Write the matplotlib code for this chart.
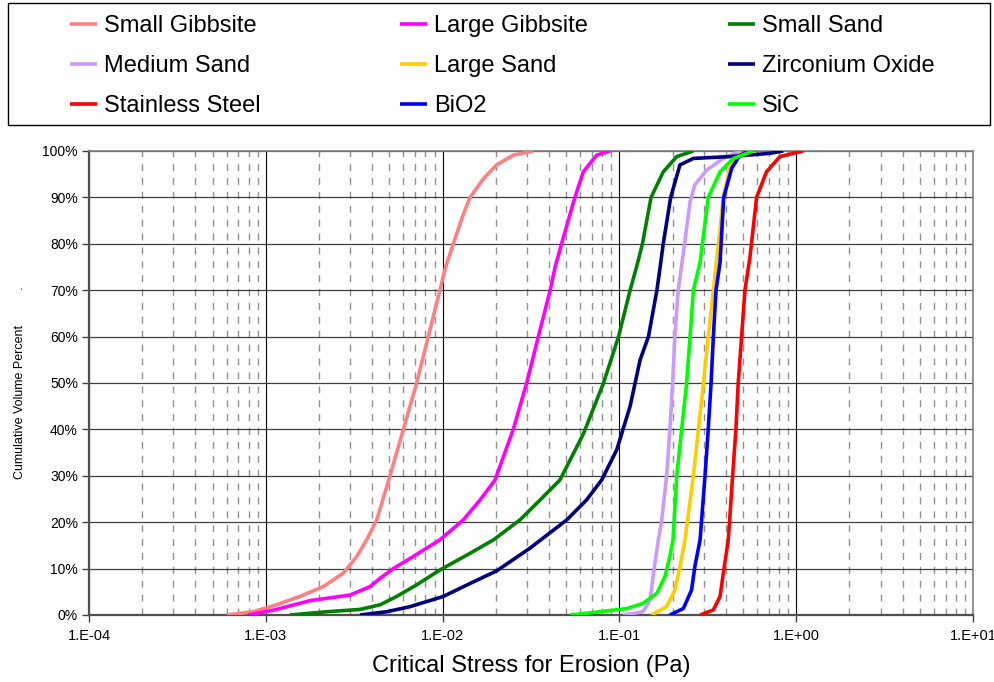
import matplotlib
matplotlib.use("Agg")
import matplotlib.pyplot as plt
import numpy as np
from matplotlib.patches import Rectangle
from matplotlib.ticker import FixedLocator, LogLocator, NullFormatter, PercentFormatter

plt.rcParams["font.family"] = ["Liberation Sans", "DejaVu Sans"]

# --------------------------------------------------------------
# Data: critical stress (Pa) vs cumulative volume %
# --------------------------------------------------------------
small_gibbsite_x = [6.01e-4, 8.49e-4, 1.15e-3, 1.56e-3, 2.11e-3, 2.74e-3, 3.27e-3, 3.72e-3,
                    4.24e-3, 5.04e-3, 6.0e-3, 7.13e-3, 8.30e-3, 9.66e-3, 1.04e-2, 1.15e-2,
                    1.30e-2, 1.43e-2, 1.70e-2, 2.02e-2, 2.51e-2, 3.26e-2]
small_gibbsite_y = [0, 0.7, 2.2, 4, 6.1, 9, 12.6, 16.2, 20.5, 30, 40, 50, 60, 70, 75, 80,
                    86, 90, 94, 97, 99.1, 100]

large_gibbsite_x = [7.96e-4, 1.15e-3, 1.78e-3, 2.99e-3, 3.88e-3, 4.43e-3, 5.26e-3, 6.82e-3,
                    9.66e-3, 1.31e-2, 1.63e-2, 1.98e-2, 2.51e-2, 2.99e-2, 3.48e-2, 4.06e-2,
                    4.33e-2, 4.71e-2, 5.60e-2, 6.25e-2, 7.43e-2, 8.85e-2]
large_gibbsite_y = [0, 1.2, 3.1, 4.3, 6.1, 7.9, 10, 12.6, 16.2, 20.5, 24.8, 29.1, 40, 50,
                    60, 70, 75, 80, 90, 95.5, 99.1, 100]

small_sand_x = [1.37e-3, 2.21e-3, 3.41e-3, 4.43e-3, 5.50e-3, 7.13e-3, 9.66e-3, 1.43e-2,
                1.94e-2, 2.74e-2, 3.56e-2, 4.61e-2, 6.25e-2, 8.13e-2, 9.89e-2, 0.115, 0.125,
                0.135, 0.151, 0.177, 0.211, 0.262]
small_sand_y = [0, 0.7, 1.2, 2.2, 4, 6.5, 9.7, 13.3, 16.2, 20.5, 24.8, 29.1, 39, 50, 60,
                70, 75, 80, 90, 95.5, 98.8, 100]

zirconium_x = [3.41e-3, 4.82e-3, 6.55e-3, 1.01e-2, 1.43e-2, 2.02e-2, 3.12e-2, 5.04e-2,
               6.52e-2, 7.94e-2, 9.66e-2, 0.115, 0.131, 0.146, 0.163, 0.170, 0.177, 0.195,
               0.220, 0.262, 0.422, 0.711, 0.845]
zirconium_y = [0, 0.7, 1.8, 4, 6.8, 9.5, 14.4, 20.5, 24.8, 29.1, 35.6, 45, 55, 60, 70, 75,
               80, 90, 97, 98.4, 98.8, 99.5, 100]

medium_sand_x = [0.105, 0.136, 0.149, 0.156, 0.166, 0.173, 0.185, 0.193, 0.200, 0.206,
                 0.215, 0.230, 0.251, 0.267, 0.312, 0.387, 0.481]
medium_sand_y = [0, 0.7, 3.2, 9, 16.2, 20, 30, 40, 50, 60, 70, 78, 89, 92.7, 95.9, 98.4, 100]

sic_x = [0.0526, 0.0776, 0.110, 0.136, 0.163, 0.181, 0.193, 0.201, 0.211, 0.225, 0.240,
         0.251, 0.262, 0.286, 0.318, 0.371, 0.441, 0.571]
sic_y = [0, 0.7, 1.4, 2.5, 4.7, 8.3, 12.6, 16.2, 30, 40, 50, 60, 70, 76, 90, 95.5, 98.4, 100]

large_sand_x = [0.152, 0.185, 0.206, 0.220, 0.235, 0.262, 0.280, 0.299, 0.318, 0.340, 0.363,
                0.387, 0.422, 0.491]
large_sand_y = [0, 1.8, 5.4, 10.4, 16.2, 30, 40, 50, 60, 70, 80, 90, 96.5, 99.8]

bio2_x = [0.193, 0.230, 0.256, 0.267, 0.286, 0.305, 0.318, 0.330, 0.340, 0.352, 0.371,
          0.389, 0.432, 0.481, 0.547]
bio2_y = [0, 1.4, 5.4, 10.4, 16.2, 30, 40, 50, 60, 70, 76, 90, 96.3, 99.1, 100]

steel_x = [0.286, 0.340, 0.371, 0.387, 0.413, 0.437, 0.456, 0.470, 0.491, 0.513, 0.547,
           0.597, 0.679, 0.809, 1.096]
steel_y = [0, 1.1, 4, 9, 16.2, 30, 40, 50, 60, 70, 77, 90, 95.5, 98.8, 100]

x_tick_values = [1e-4, 1e-3, 1e-2, 1e-1, 1e0, 1e1]
x_tick_labels = ["1.E-04", "1.E-03", "1.E-02", "1.E-01", "1.E+00", "1.E+01"]
y_tick_values = list(range(0, 101, 10))

series = [
    ("Small Gibbsite", small_gibbsite_x, small_gibbsite_y, "#FF8080"),
    ("Large Gibbsite", large_gibbsite_x, large_gibbsite_y, "#FF00FF"),
    ("Small Sand", small_sand_x, small_sand_y, "#008000"),
    ("Medium Sand", medium_sand_x, medium_sand_y, "#CC99FF"),
    ("Large Sand", large_sand_x, large_sand_y, "#FFCC00"),
    ("Zirconium Oxide", zirconium_x, zirconium_y, "#000080"),
    ("Stainless Steel", steel_x, steel_y, "#FF0000"),
    ("BiO2", bio2_x, bio2_y, "#0000FF"),
    ("SiC", sic_x, sic_y, "#00FF00"),
]

# --------------------------------------------------------------
# Figure
# --------------------------------------------------------------
fig = plt.figure(figsize=(9.95, 6.82), dpi=100)
ax = fig.add_axes([89 / 995, 67 / 682, 884 / 995, 464 / 682])

handles = {}
for name, xs, ys, color in series:
    line, = ax.plot(xs, ys, color=color, linewidth=2.6, solid_joinstyle="round",
                    solid_capstyle="butt", label=name, zorder=3)
    handles[name] = line

ax.set_xscale("log")
ax.set_xlim(1e-4, 1e1)
ax.set_ylim(0, 100)

ax.xaxis.set_major_locator(FixedLocator(x_tick_values))
ax.set_xticklabels(x_tick_labels, fontsize=10.5)
ax.xaxis.set_minor_locator(LogLocator(base=10, subs=np.arange(2, 10)))
ax.xaxis.set_minor_formatter(NullFormatter())
ax.set_yticks(y_tick_values)
ax.yaxis.set_major_formatter(PercentFormatter(decimals=0))
ax.tick_params(axis="y", labelsize=10, length=5, width=1, color="#404040", pad=3)
ax.tick_params(axis="x", which="major", length=5, width=1, color="#404040", pad=5)
ax.tick_params(axis="x", which="minor", length=0)

ax.grid(True, which="major", axis="y", color="#404040", linewidth=0.9)
ax.grid(True, which="major", axis="x", color="black", linewidth=0.8)
ax.grid(True, which="minor", axis="x", color="#909090", linewidth=1.0, linestyle=(0, (5, 5)))
ax.set_axisbelow(True)

for side in ["top", "right"]:
    ax.spines[side].set_color("#808080")
    ax.spines[side].set_linewidth(1.2)
for side in ["left", "bottom"]:
    ax.spines[side].set_color("#505050")
    ax.spines[side].set_linewidth(1.6)

ax.set_xlabel("Critical Stress for Erosion (Pa)", fontsize=17, labelpad=9)
ax.set_ylabel("Cumulative Volume Percent          .", fontsize=9, labelpad=12)

# Legend box across the top
fig.add_artist(Rectangle((8 / 995, 1 - 125 / 682), 982 / 995, 122 / 682,
                         transform=fig.transFigure, fill=False,
                         edgecolor="black", linewidth=1))
order = ["Small Gibbsite", "Medium Sand", "Stainless Steel",
         "Large Gibbsite", "Large Sand", "BiO2",
         "Small Sand", "Zirconium Oxide", "SiC"]
fig.legend([handles[n] for n in order], order, ncol=3, frameon=False,
           loc="upper left", bbox_to_anchor=(70 / 995, 1 - 15 / 682),
           fontsize=17, handlelength=1.15, handletextpad=0.3,
           columnspacing=5.9, labelspacing=0.77, borderpad=0, borderaxespad=0)

fig.savefig("out.png", dpi=100)
